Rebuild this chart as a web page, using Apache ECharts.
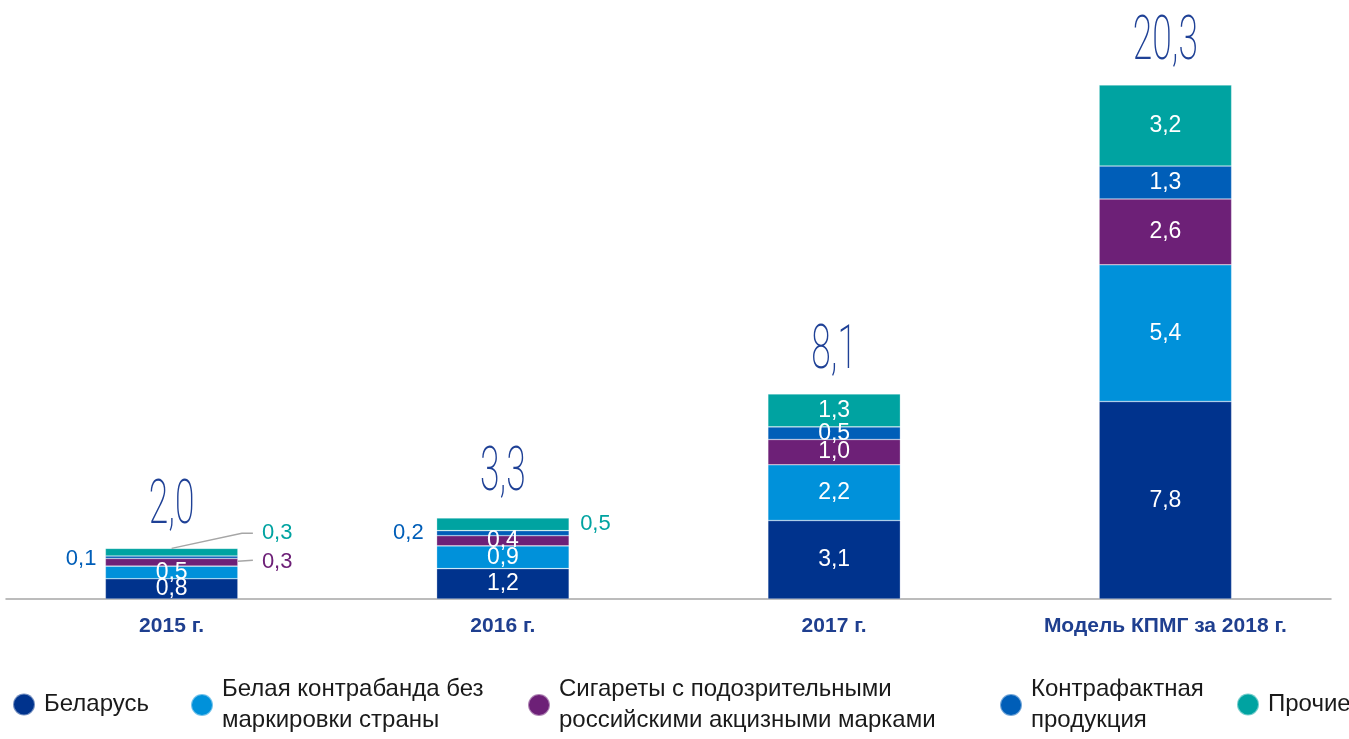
<!DOCTYPE html>
<html>
<head>
<meta charset="utf-8">
<script src="https://cdn.jsdelivr.net/npm/echarts@6/dist/echarts.min.js"></script>
<style>
  html, body { margin: 0; padding: 0; background: #fff; }
  #chart { width: 1349px; height: 739px; }
</style>
</head>
<body>
<div id="chart"></div>
<script>
// данные
const years = ['2015 г.', '2016 г.', '2017 г.', 'Модель КПМГ за 2018 г.']
const belarus = [0.8, 1.2, 3.1, 7.8]
const whiteContraband = [0.5, 0.9, 2.2, 5.4]
const suspicious = [0.3, 0.4, 1.0, 2.6]
const counterfeit = [0.1, 0.2, 0.5, 1.3]
const other = [0.3, 0.5, 1.3, 3.2]
const totals = [2.0, 3.3, 8.1, 20.3]

const names = [
	'Беларусь',
	'Белая контрабанда без\nмаркировки страны',
	'Сигареты с подозрительными\nроссийскими акцизными марками',
	'Контрафактная\nпродукция',
	'Прочие',
]
const colors = ['#00338D', '#0091DA', '#6D2077', '#005EB8', '#00A3A1']

const fmt = (v) => v.toFixed(1).replace('.', ',')
const lineGray = '#a6a6a6'
const font = 'Liberation Sans, Arial, sans-serif'

function makeSeries(idx, values, special) {
	return {
		name: names[idx],
		type: 'bar',
		stack: 'total',
		barWidth: '40%',
		itemStyle: {
			color: colors[idx],
			borderColor: 'rgba(255,255,255,0.45)',
			borderWidth: 0.6,
		},
		label: {
			show: true,
			position: 'inside',
			color: '#fff',
			fontSize: 23,
			fontFamily: font,
			formatter: (p) => fmt(p.value),
		},
		labelLayout: special && special.layout,
		data: values.map((v, i) => {
			const item = { value: v }
			if (special && special.items[i]) Object.assign(item, special.items[i])
			return item
		}),
	}
}

const outsideLabel = (color, position, distance) => ({
	label: { position: position, distance: distance, color: color, fontSize: 22 },
})

const series = [
	makeSeries(0, belarus),
	makeSeries(1, whiteContraband),
	makeSeries(2, suspicious, {
		items: { 0: outsideLabel(colors[2], 'right', 24) },
	}),
	makeSeries(3, counterfeit, {
		items: {
			0: outsideLabel(colors[3], 'left', 9),
			1: outsideLabel(colors[3], 'left', 13),
		},
		layout: (p) => (p.dataIndex === 0 ? { dy: 2 } : {}),
	}),
	makeSeries(4, other, {
		items: {
			0: outsideLabel(colors[4], 'right', 24),
			1: outsideLabel(colors[4], 'right', 11),
		},
		layout: (p) => (p.dataIndex === 0 ? { dy: -19 } : {}),
	}),
	// выноски для 2015 г.
	{
		type: 'custom',
		silent: true,
		z: 5,
		data: [[0]],
		renderItem: (params, api) => {
			const i = api.value(0)
			const hw = api.size([1, 0])[0] * 0.2
			const sumBelow = belarus[i] + whiteContraband[i]
			const top = api.coord([i, sumBelow + suspicious[i] + counterfeit[i] + other[i]])
			const mid = api.coord([i, sumBelow + suspicious[i] / 2])
			const ly = top[1] - 15
			const style = { stroke: lineGray, lineWidth: 1.5, fill: null }
			return {
				type: 'group',
				children: [
					{
						type: 'polyline',
						shape: { points: [top, [top[0] + hw + 4, ly], [top[0] + hw + 15, ly]] },
						style: style,
					},
					{
						type: 'polyline',
						shape: { points: [[mid[0] + hw, mid[1] - 1], [mid[0] + hw + 15, mid[1] - 2]] },
						style: style,
					},
				],
			}
		},
	},
	// итоговые значения над столбцами
	{
		type: 'custom',
		silent: true,
		z: 10,
		data: totals.map((v, i) => [i, v]),
		renderItem: (params, api) => {
			const pt = api.coord([api.value(0), api.value(1)])
			return {
				type: 'text',
				x: pt[0],
				y: pt[1] - 41,
				scaleX: 0.58,
				style: {
					text: fmt(api.value(1)),
					fontFamily: 'Roboto',
					fontWeight: 200,
					fontSize: 61,
					fill: '#1f4196',
					align: 'center',
					verticalAlign: 'middle',
				},
			}
		},
	},
]

// легенда: отдельный блок на каждый пункт, как в оригинале
const legendLeft = [12, 190, 527, 999, 1236]
const legends = names.map((n, i) => {
	const twoLines = n.indexOf('\n') >= 0
	return {
		data: [n],
		left: legendLeft[i],
		top: twoLines ? 674 : 689,
		padding: 0,
		icon: 'circle',
		itemWidth: 22,
		itemHeight: 22,
		selectedMode: false,
		textStyle: {
			fontSize: 24,
			lineHeight: 31,
			color: '#1a1a1a',
			fontFamily: font,
			padding: [0, 0, 0, 4],
		},
	}
})

const option = {
	animation: false,
	color: colors,
	legend: legends,
	grid: { left: 6, right: 18, top: 42, bottom: 140 },
	xAxis: {
		type: 'category',
		data: years,
		axisTick: { show: false },
		axisLine: { lineStyle: { color: '#a6a6a6', width: 1.5 } },
		axisLabel: {
			margin: 17,
			fontSize: 21,
			fontWeight: 'bold',
			color: '#1f3f8f',
			fontFamily: font,
		},
	},
	yAxis: {
		type: 'value',
		min: 0,
		max: 22,
		show: false,
		splitLine: { show: false },
	},
	series: series,
}

const chart = echarts.init(document.getElementById('chart'))
chart.setOption(option)
</script>
</body>
</html>
